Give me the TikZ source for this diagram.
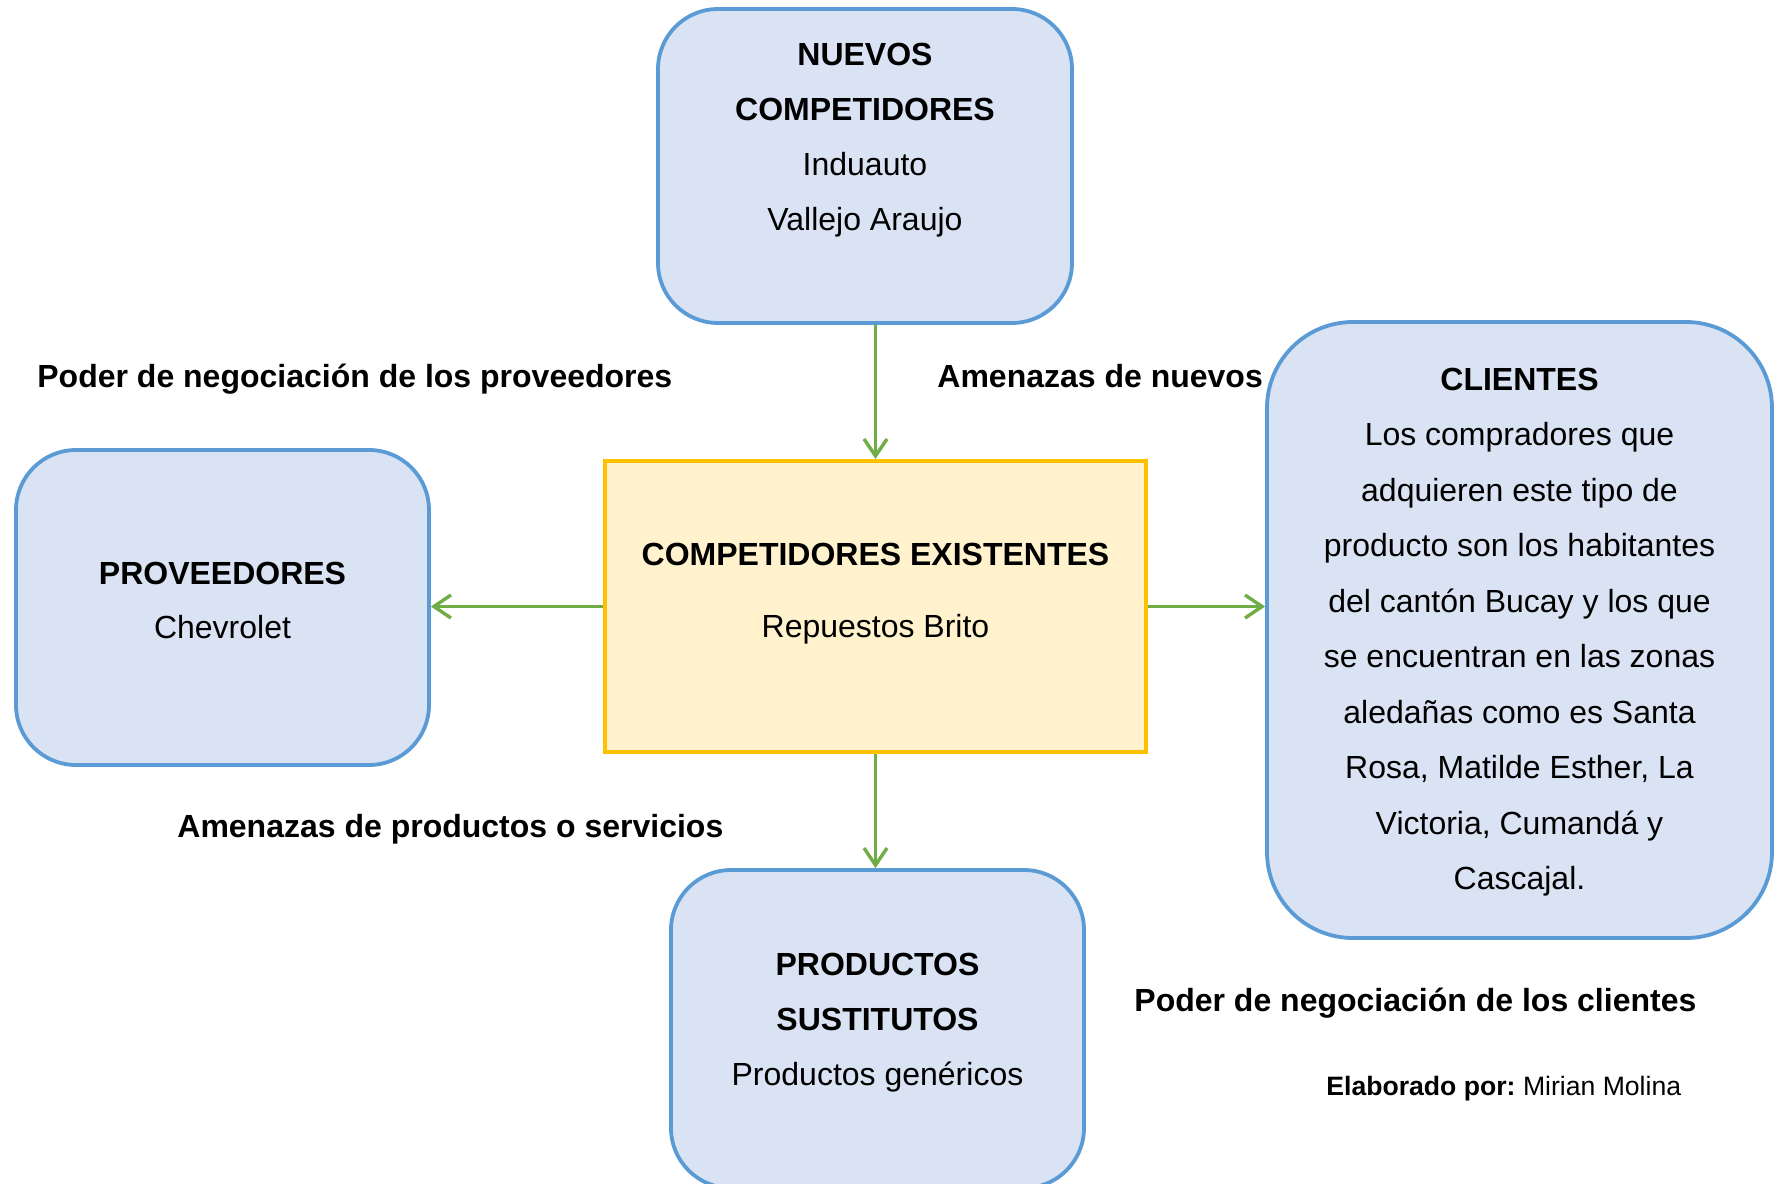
\documentclass[tikz,border=0pt]{standalone}
\usepackage{fontspec}
\setmainfont{Liberation Sans}
\usetikzlibrary{arrows.meta}
\definecolor{boxblue}{HTML}{5B9BD5}
\definecolor{fillblue}{HTML}{DAE3F3}
\definecolor{boxgold}{HTML}{FFC000}
\definecolor{fillgold}{HTML}{FFF2CC}
\definecolor{arrgreen}{HTML}{70AD47}
\tikzset{
  bluebox/.style={draw=boxblue, fill=fillblue, line width=1.9pt, rounded corners=30pt, inner sep=0pt},
  goldbox/.style={draw=boxgold, fill=fillgold, line width=2pt, inner sep=0pt},
  txt/.style={anchor=base, inner sep=0pt, font=\fontsize{16}{19}\selectfont},
  lbl/.style={anchor=base west, inner sep=0pt, font=\fontsize{16}{19}\selectfont\bfseries},
  arr/.style={draw=arrgreen, line width=1.7pt, -{Straight Barb[length=8.5pt,width=11.5pt,line width=1.7pt]}}
}
\begin{document}
\begin{tikzpicture}[x=0.5pt,y=-0.5pt]
\clip (0,0) rectangle (1779,1184);
\fill[white] (0,0) rectangle (1779,1184);

% boxes
\node[bluebox, minimum width=207pt, minimum height=157pt] (nuevos) at (865,166) {};
\node[goldbox, minimum width=270.5pt, minimum height=145.5pt] (central) at (875.5,606.5) {};
\node[bluebox, minimum width=206.5pt, minimum height=157.5pt] (prov) at (222.5,607.5) {};
\node[bluebox, rounded corners=43pt, minimum width=252.5pt, minimum height=308pt] (clientes) at (1519.5,630) {};
\node[bluebox, minimum width=206.5pt, minimum height=159pt] (prod) at (877.5,1029) {};

% texts in boxes
\node[txt] (n1) at (865,65) {\bfseries NUEVOS};
\node[txt] (n2) at (865,120) {\bfseries COMPETIDORES};
\node[txt] (n3) at (865,175.5) {Induauto};
\node[txt] (n4) at (865,230.5) {Vallejo Araujo};

\node[txt] (c1) at (875.5,565.5) {\bfseries COMPETIDORES EXISTENTES};
\node[txt] (c2) at (875.5,637.5) {Repuestos Brito};

\node[txt] (p1) at (222.5,584) {\bfseries PROVEEDORES};
\node[txt] (p2) at (222.5,638.5) {Chevrolet};

\node[txt] (s1) at (877.5,975) {\bfseries PRODUCTOS};
\node[txt] (s2) at (877.5,1030) {\bfseries SUSTITUTOS};
\node[txt] (s3) at (877.5,1085.5) {Productos genéricos};

\node[txt] (k1) at (1519.5,390) {\bfseries CLIENTES};
\node[txt] (k2) at (1519.5,445.5) {Los compradores que};
\node[txt] (k3) at (1519.5,501) {adquieren este tipo de};
\node[txt] (k4) at (1519.5,556.5) {producto son los habitantes};
\node[txt] (k5) at (1519.5,612) {del cantón Bucay y los que};
\node[txt] (k6) at (1519.5,667.5) {se encuentran en las zonas};
\node[txt] (k7) at (1519.5,723) {aledañas como es Santa};
\node[txt] (k8) at (1519.5,778.5) {Rosa, Matilde Esther, La};
\node[txt] (k9) at (1519.5,834) {Victoria, Cumandá y};
\node[txt] (k10) at (1519.5,889.5) {Cascajal.};

% labels
\node[lbl] (l1) at (37,387.5) {Poder de negociación de los proveedores};
\node[lbl] (l2) at (937,387.5) {Amenazas de nuevos};
\node[lbl] (l3) at (177,837.5) {Amenazas de productos o servicios};
\node[lbl] (l4) at (1134,1011.5) {Poder de negociación de los clientes};
\node[anchor=base west, inner sep=0pt, font=\fontsize{13.3}{16}\selectfont] (l5) at (1326,1095.5) {\textbf{Elaborado por:}\hspace{-1.2pt} Mirian Molina};

% connectors
\draw[arr] (nuevos.south -| central.north) -- (central.north);
\draw[arr] (central.west) -- (central.west -| prov.east);
\draw[arr] (central.east) -- (central.east -| clientes.west);
\draw[arr] (central.south) -- (central.south |- prod.north);
\end{tikzpicture}
\end{document}
